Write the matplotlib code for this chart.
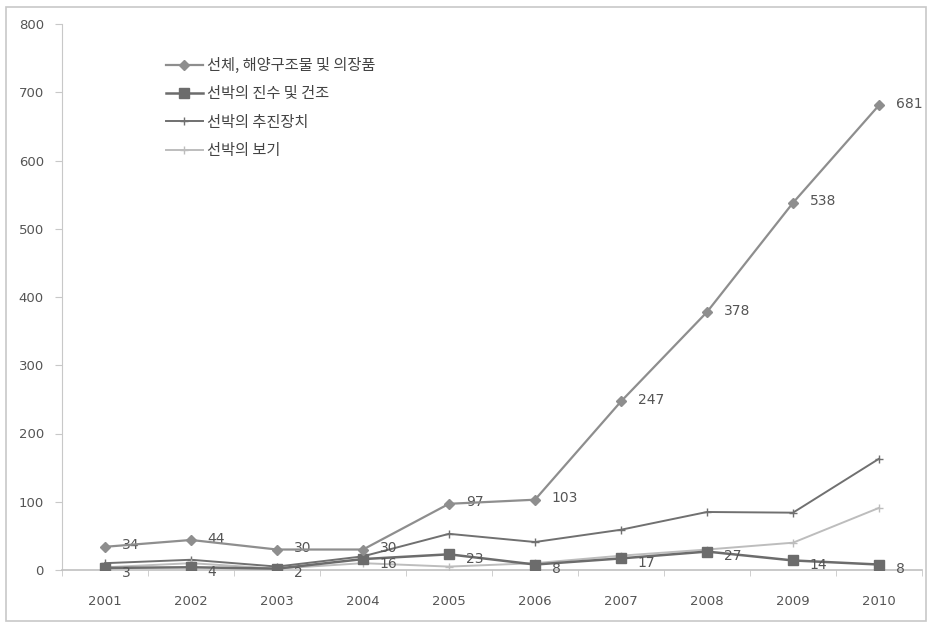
import matplotlib.pyplot as plt
from matplotlib.ticker import FixedLocator, NullFormatter

plt.rcParams['font.family'] = ['Noto Sans CJK KR', 'DejaVu Sans']

years = ['2001', '2002', '2003', '2004', '2005', '2006', '2007', '2008', '2009', '2010']
hull = [34, 44, 30, 30, 97, 103, 247, 378, 538, 681]          # 선체, 해양구조물 및 의장품
launch = [3, 4, 2, 16, 23, 8, 17, 27, 14, 8]                  # 선박의 진수 및 건조
propulsion = [10, 15, 5, 20, 53, 41, 59, 85, 84, 163]         # 선박의 추진장치
fittings = [4, 10, 2, 10, 5, 10, 21, 30, 40, 91]              # 선박의 보기
names = ['선체, 해양구조물 및 의장품', '선박의 진수 및 건조', '선박의 추진장치', '선박의 보기']

x = list(range(len(years)))

fig = plt.figure(figsize=(9.31, 6.26), dpi=100)
ax = fig.add_axes([62 / 931, 56 / 626, 860 / 931, 546 / 626])

ax.plot(x, hull, color='#8e8e8e', lw=1.6, marker='D', ms=5, label=names[0], zorder=4)
ax.plot(x, launch, color='#6c6c6c', lw=1.8, marker='s', ms=6.5, label=names[1], zorder=3)
ax.plot(x, propulsion, color='#707070', lw=1.4, marker='+', ms=6, label=names[2], zorder=2)
ax.plot(x, fittings, color='#bdbdbd', lw=1.4, marker='+', ms=6, label=names[3], zorder=2)

# data labels
for xi, v in zip(x, hull):
    ax.annotate(str(v), (xi, v), xytext=(12, 1), textcoords='offset points',
                va='center', ha='left', fontsize=10, color='#555555', family='DejaVu Sans')
for xi, v in zip(x, launch):
    ax.annotate(str(v), (xi, v), xytext=(12, -3.5), textcoords='offset points',
                va='center', ha='left', fontsize=10, color='#555555', family='DejaVu Sans')

ax.set_xlim(-0.5, 9.5)
ax.set_ylim(0, 800)
ax.set_yticks(range(0, 801, 100))
ax.set_xticks(x)
ax.set_xticklabels(years)
ax.xaxis.set_minor_locator(FixedLocator([i + 0.5 for i in range(-1, 10)]))
ax.xaxis.set_minor_formatter(NullFormatter())
ax.tick_params(axis='x', which='major', length=0, pad=18, labelsize=9.5, labelcolor='#555555')
ax.tick_params(axis='x', which='minor', length=4, color='#c8c8c8', direction='out')
ax.tick_params(axis='y', length=5, color='#c8c8c8', labelsize=9.5, labelcolor='#555555', pad=8)
for lbl in ax.get_xticklabels() + ax.get_yticklabels():
    lbl.set_family('DejaVu Sans')

for s in ['top', 'right']:
    ax.spines[s].set_visible(False)
ax.spines['left'].set_color('#c8c8c8')
ax.spines['bottom'].set_color('#c0c0c0')
ax.spines['bottom'].set_linewidth(1.2)

leg = ax.legend(loc='upper left', bbox_to_anchor=(0.105, 0.965), frameon=False,
                fontsize=11, handlelength=2.4, labelspacing=0.75, handletextpad=0.3)
for t in leg.get_texts():
    t.set_color('#444444')

# outer chart border
fig.patches.append(plt.Rectangle((6 / 931, 5 / 626), 920 / 931, 614 / 626,
                                 transform=fig.transFigure, fill=False,
                                 edgecolor='#c8c8c8', lw=1.2))

fig.savefig('out.png', dpi=100)
